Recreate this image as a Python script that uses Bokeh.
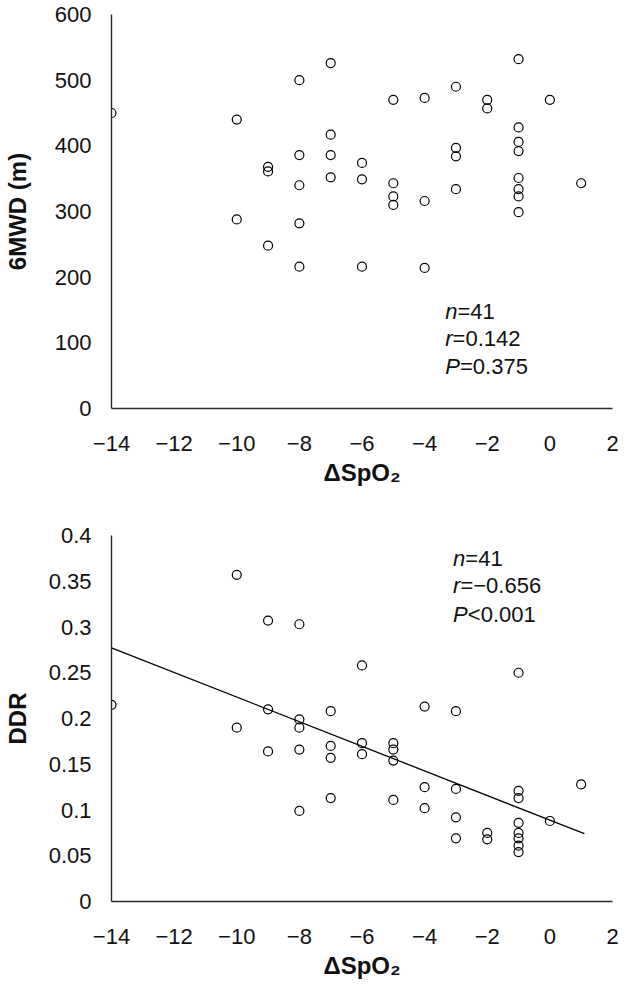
from bokeh.plotting import figure
from bokeh.models import Range1d, FixedTicker, Label
from bokeh.layouts import column
from bokeh.embed import file_html
from bokeh.resources import INLINE

# ---------------- data ----------------
delta_spo2 = [-14, -10, -10, -9, -9, -9, -8, -8, -8, -8, -8, -7, -7, -7, -7,
              -6, -6, -6, -5, -5, -5, -5, -4, -4, -4, -3, -3, -3, -3, -2, -2,
              -1, -1, -1, -1, -1, -1, -1, -1, 0, 1]
mwd = [450, 440, 288, 368, 361, 248, 500, 386, 340, 282, 216, 526, 417, 386, 352,
       374, 349, 216, 470, 343, 323, 310, 473, 316, 214, 490, 397, 384, 334, 470, 457,
       532, 428, 406, 392, 351, 334, 323, 299, 470, 343]
ddr = [0.215, 0.357, 0.190, 0.307, 0.210, 0.164, 0.303, 0.199, 0.190, 0.166, 0.099,
       0.208, 0.170, 0.157, 0.113, 0.258, 0.173, 0.161, 0.173, 0.166, 0.154, 0.111,
       0.213, 0.125, 0.102, 0.208, 0.123, 0.092, 0.069, 0.075, 0.068,
       0.250, 0.121, 0.113, 0.086, 0.075, 0.069, 0.061, 0.054, 0.088, 0.128]

trend_x = [-14, 1.1]
trend_slope = -0.01345
trend_intercept = 0.0889

x_ticks = [-14, -12, -10, -8, -6, -4, -2, 0, 2]
x_tick_labels = ["\u221214", "\u221212", "\u221210", "\u22128", "\u22126", "\u22124", "\u22122", "0", "2"]
y1_ticks = [0, 100, 200, 300, 400, 500, 600]
y1_tick_labels = ["0", "100", "200", "300", "400", "500", "600"]
y2_ticks = [0, 0.05, 0.1, 0.15, 0.2, 0.25, 0.3, 0.35, 0.4]
y2_tick_labels = ["0", "0.05", "0.1", "0.15", "0.2", "0.25", "0.3", "0.35", "0.4"]

x_title = "\u0394SpO\u2082"
y1_title = "6MWD (m)"
y2_title = "DDR"

stats_top = [("n", "=41"), ("r", "=0.142"), ("P", "=0.375")]
stats_bottom = [("n", "=41"), ("r", "=\u22120.656"), ("P", "<0.001")]

FONT = "Liberation Sans"
TXT = "#111111"
AX = "#2a2a2a"


def style_axes(p, yticks, ylabels, ytitle, ylab_standoff, ytitle_standoff):
    xa = p.xaxis[0]
    ya = p.yaxis[0]
    xa.ticker = FixedTicker(ticks=x_ticks)
    xa.major_label_overrides = dict(zip(x_ticks, x_tick_labels))
    ya.ticker = FixedTicker(ticks=yticks)
    ya.major_label_overrides = dict(zip(yticks, ylabels))
    for ax in (xa, ya):
        ax.major_tick_in = 0
        ax.major_tick_out = 0
        ax.minor_tick_in = 0
        ax.minor_tick_out = 0
        ax.axis_line_color = AX
        ax.axis_line_width = 1.4
        ax.major_label_text_font = FONT
        ax.major_label_text_font_size = "22px"
        ax.major_label_text_color = TXT
        ax.axis_label_text_font = FONT
        ax.axis_label_text_font_size = "24px"
        ax.axis_label_text_font_style = "bold"
        ax.axis_label_text_color = TXT
    xa.axis_label = x_title
    xa.major_label_standoff = 27
    xa.axis_label_standoff = 5
    ya.axis_label = ytitle
    ya.major_label_standoff = ylab_standoff
    ya.axis_label_standoff = ytitle_standoff


def make_fig(height, top, bottom, yr):
    p = figure(width=619, height=height, x_range=Range1d(-14, 2), y_range=yr,
               output_backend="svg", toolbar_location=None,
               min_border_left=106, min_border_right=7,
               min_border_top=top, min_border_bottom=bottom)
    p.xgrid.visible = False
    p.ygrid.visible = False
    p.outline_line_color = None
    p.background_fill_color = "white"
    p.border_fill_color = "white"
    return p


def add_stats(p, x, ys, stats):
    widths = {"n": 12.2, "r": 7.3, "P": 14.7}
    for (it, rest), y in zip(stats, ys):
        p.add_layout(Label(x=x, y=y, text=it, text_font=FONT, text_font_size="22px",
                           text_font_style="italic", text_color=TXT,
                           text_baseline="middle", text_align="left"))
        p.add_layout(Label(x=x, y=y, x_offset=widths[it], text=rest, text_font=FONT,
                           text_font_size="22px", text_color=TXT,
                           text_baseline="middle", text_align="left"))


# ---------------- top ----------------
p1 = make_fig(493, 14, 85, Range1d(0, 600))
style_axes(p1, y1_ticks, y1_tick_labels, y1_title, 20, 21)
p1.scatter(delta_spo2, mwd, marker="circle", size=9, fill_alpha=0,
           line_color="black", line_width=1.2)
add_stats(p1, -3.34, [148, 106.5, 63.5], stats_top)

# ---------------- bottom ----------------
p2 = make_fig(494, 42, 86, Range1d(0, 0.4))
style_axes(p2, y2_ticks, y2_tick_labels, y2_title, 20, 15)
p2.scatter(delta_spo2, ddr, marker="circle", size=9, fill_alpha=0,
           line_color="black", line_width=1.2)
trend_y = [trend_intercept + trend_slope * v for v in trend_x]
p2.line(trend_x, trend_y, line_color="black", line_width=1.3)
add_stats(p2, -3.09, [0.3752, 0.3453, 0.3139], stats_bottom)

layout = column(p1, p2)
open("out.html", "w").write(file_html(layout, INLINE))
